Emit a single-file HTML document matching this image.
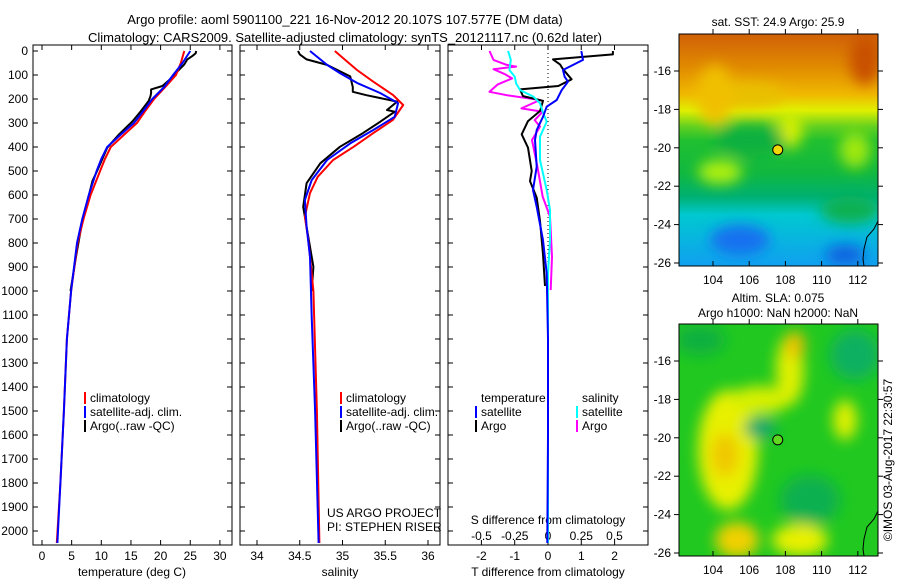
<!DOCTYPE html>
<html><head><meta charset="utf-8"><style>
html,body{margin:0;padding:0;background:#fff;}
svg{display:block;font-family:"Liberation Sans",sans-serif;}
</style></head><body>
<svg id="c" width="900" height="580" viewBox="0 0 900 580" xmlns="http://www.w3.org/2000/svg">
<defs>
<filter id="bl" x="-50%" y="-50%" width="200%" height="200%"><feGaussianBlur stdDeviation="7"/></filter>
<clipPath id="m1c"><rect x="679" y="34" width="199" height="232"/></clipPath>
<clipPath id="m2c"><rect x="679" y="324" width="199" height="232"/></clipPath>
<linearGradient id="g1" x1="0" y1="0" x2="0" y2="1">
<stop offset="0" stop-color="#d06008"/><stop offset="0.14" stop-color="#e08a00"/><stop offset="0.26" stop-color="#f0b800"/><stop offset="0.33" stop-color="#e0f000"/><stop offset="0.4" stop-color="#60d020"/><stop offset="0.46" stop-color="#20c030"/><stop offset="0.6" stop-color="#10b840"/><stop offset="0.7" stop-color="#00b070"/><stop offset="0.78" stop-color="#00c8d0"/><stop offset="1" stop-color="#10a0f0"/>
</linearGradient>
</defs>
<text x="345" y="24" font-size="13" text-anchor="middle">Argo profile: aoml 5901100_221 16-Nov-2012 20.107S 107.577E (DM data)</text>
<text x="345" y="42" font-size="13" text-anchor="middle">Climatology: CARS2009. Satellite-adjusted climatology: synTS_20121117.nc (0.62d later)</text>
<g id="axes"></g>
<g id="maps">
<g clip-path="url(#m1c)">
<rect x="679" y="34" width="199" height="232" fill="url(#g1)"/>
<g filter="url(#bl)">
<ellipse cx="745" cy="95" rx="40" ry="12" fill="#e8c000"/>
<ellipse cx="715" cy="95" rx="18" ry="30" fill="#f0c000"/>
<ellipse cx="790" cy="130" rx="12" ry="18" fill="#d8f000"/>
<ellipse cx="750" cy="140" rx="35" ry="16" fill="#10b040"/>
<ellipse cx="720" cy="172" rx="22" ry="12" fill="#b0f010"/>
<ellipse cx="855" cy="150" rx="15" ry="18" fill="#a0e810"/>
<ellipse cx="865" cy="60" rx="15" ry="25" fill="#c85000"/>
<ellipse cx="740" cy="240" rx="30" ry="15" fill="#1870f0"/>
<ellipse cx="845" cy="255" rx="20" ry="10" fill="#1060e0"/>
<ellipse cx="850" cy="210" rx="30" ry="14" fill="#10b050"/>
</g>
</g>
<rect x="679" y="34" width="199" height="232" fill="none" stroke="#000"/>
<text x="778" y="26" font-size="12" text-anchor="middle">sat. SST: 24.9 Argo: 25.9</text>
<g clip-path="url(#m2c)">
<rect x="679" y="324" width="199" height="232" fill="#20c820"/>
<g filter="url(#bl)">
<ellipse cx="700" cy="340" rx="25" ry="15" fill="#10b040"/>
<ellipse cx="728" cy="450" rx="30" ry="60" fill="#e8f000"/>
<ellipse cx="725" cy="455" rx="14" ry="22" fill="#f0c800"/>
<ellipse cx="790" cy="370" rx="14" ry="35" fill="#e0f000"/>
<ellipse cx="795" cy="345" rx="10" ry="14" fill="#f0c000"/>
<ellipse cx="760" cy="400" rx="30" ry="14" fill="#d8f000"/>
<ellipse cx="760" cy="428" rx="16" ry="11" fill="#10a870"/>
<ellipse cx="845" cy="420" rx="12" ry="20" fill="#e0f000"/>
<ellipse cx="855" cy="355" rx="25" ry="25" fill="#10b060"/>
<ellipse cx="810" cy="500" rx="30" ry="25" fill="#10b050"/>
<ellipse cx="737" cy="540" rx="22" ry="18" fill="#f0d000"/>
<ellipse cx="800" cy="540" rx="28" ry="16" fill="#e8f000"/>
</g>
</g>
<rect x="679" y="324" width="199" height="232" fill="none" stroke="#000"/>
<text x="778" y="302" font-size="12" text-anchor="middle">Altim. SLA: 0.075</text>
<text x="778" y="317" font-size="12" text-anchor="middle">Argo h1000: NaN h2000: NaN</text>
<text x="0" y="0" font-size="12" text-anchor="middle" transform="translate(892,460) rotate(-90)">©IMOS 03-Aug-2017 22:30:57</text>
</g>
</svg>
<script>
const climDepth=[0,50,100,150,200,250,300,350,400,450,500,600,700,800,1000,1200,1500,1800,2050];
const climTemp=[24.0,23.4,22.6,20.8,18.9,17.4,16.0,13.8,11.6,10.6,9.8,8.2,7.0,6.0,4.9,4.2,3.7,3.1,2.5];
const satTemp=[25.0,23.7,22.1,20.6,18.6,17.1,15.5,13.2,11.0,10.0,9.2,7.9,6.8,5.9,4.9,4.2,3.7,3.1,2.6];
const argoDepth=[0,10,20,35,56,76,100,118,146,160,175,188,208,250,292,347,403,500,542,611,708,847,1000];
const argoTemp=[26.0,25.9,25.4,24.5,24.0,23.2,22.3,21.6,20.3,18.4,18.4,18.3,18.0,16.7,15.3,13.0,11.0,9.3,8.5,7.8,6.8,5.8,4.8];
const climSDepth=[0,79,128,183,225,287,342,399,454,524,592,690,787,1000,1500,2050];
const climSal=[34.91,35.17,35.36,35.59,35.71,35.59,35.36,35.13,34.89,34.71,34.62,34.56,34.60,34.66,34.70,34.73];
const satSDepth=[0,58,92,133,175,217,274,329,385,454,538,621,732,857,1107,1500,2050];
const satSal=[34.62,34.82,34.97,35.17,35.44,35.65,35.61,35.36,35.09,34.82,34.64,34.56,34.58,34.62,34.64,34.68,34.72];
const argoSDepth=[0,14,35,58,106,150,170,184,211,246,253,295,342,399,468,551,649,899,1000];
const argoSal=[34.48,34.50,34.58,34.82,35.09,35.12,35.12,35.28,35.64,35.52,35.61,35.44,35.24,34.97,34.74,34.58,34.54,34.66,34.64];
const dTsatDepth=[0,37,79,107,128,163,204,232,274,329,371,482,579,649,788,926,1200,1600,2050];
const dTsat=[1.0,1.05,0.45,0.5,0.6,0.41,0.26,-0.04,-0.15,-0.34,-0.39,-0.34,-0.45,-0.34,-0.15,-0.04,0.0,0.0,-0.02];
const dTargoDepth=[0,14,35,56,76,118,146,160,188,208,250,292,347,403,500,542,611,708,847,979];
const dTargo=[1.95,1.95,0.15,0.36,0.45,0.71,0.31,-0.84,-0.75,-0.15,-0.24,-0.6,-0.79,-0.6,-0.49,-0.54,-0.34,-0.24,-0.15,-0.09];
const dSsatDepth=[0,37,79,107,135,163,190,218,253,294,357,454,579,662,788,926,1500,2050];
const dSsat=[-0.3,-0.28,-0.29,-0.25,-0.24,-0.21,-0.11,-0.06,-0.04,-0.01,-0.06,-0.06,-0.01,0.015,0.015,0.0,0.0,0.0];
const dSargoDepth=[0,37,58,65,76,95,114,140,170,184,204,239,253,288,315,371,482,607,690,857,996];
const dSargo=[-0.44,-0.41,-0.31,-0.24,-0.41,-0.33,-0.27,-0.38,-0.44,-0.31,-0.06,-0.2,-0.04,-0.1,-0.06,-0.12,-0.08,-0.04,0.015,0.03,0.02];
const depthTicks=[0,100,200,300,400,500,600,700,800,900,1000,1100,1200,1300,1400,1500,1600,1700,1800,1900,2000];
const tempTicks=[0,5,10,15,20,25,30];
const salTicks=[34,34.5,35,35.5,36];
const tdTicks=[-2,-1,0,1,2];
const sdTicks=[-0.5,-0.25,0,0.25,0.5];
const lonTicks=[104,106,108,110,112];
const latTicks=[-16,-18,-20,-22,-24,-26];
const argoLon=107.577, argoLat=-20.107;

const NS='http://www.w3.org/2000/svg';
const ax=document.getElementById('axes');
function mk(tag,attrs,parent){const e=document.createElementNS(NS,tag);for(const k in attrs)e.setAttribute(k,attrs[k]);(parent||ax).appendChild(e);return e;}
const Y=d=>51+d*0.24;
const yTop=45,yBot=545;
const panels=[
 {x0:33,x1:232,sx:v=>42+v*5.93,name:'temperature-panel'},
 {x0:240,x1:440,sx:v=>257+(v-34)*85.5,name:'salinity-panel'},
 {x0:448,x1:648,sx:v=>548+v*33.3,name:'difference-panel'}];
panels.forEach((p,i)=>{
 const r=mk('rect',{x:p.x0,y:yTop,width:p.x1-p.x0,height:yBot-yTop,fill:'none',stroke:'#000'});
 
 
 depthTicks.forEach(d=>{
  mk('line',{x1:p.x0,x2:p.x0+5,y1:Y(d),y2:Y(d),stroke:'#000'});
  mk('line',{x1:p.x1,x2:p.x1-5,y1:Y(d),y2:Y(d),stroke:'#000'});
 });
});
depthTicks.forEach(d=>{
 const t=mk('text',{x:28,y:Y(d)+4,'font-size':12,'text-anchor':'end'});t.textContent=d;
 
 
});
function xticks(ticks,sx,ly,withTop){
 ticks.forEach(v=>{
  const x=sx(v);
  mk('line',{x1:x,x2:x,y1:yBot,y2:yBot-5,stroke:'#000'});
  if(withTop)mk('line',{x1:x,x2:x,y1:yTop,y2:yTop+5,stroke:'#000'});
  const t=mk('text',{x:x,y:ly,'font-size':12,'text-anchor':'middle'});t.textContent=v;
  
  
 });
}
xticks(tempTicks,panels[0].sx,560,true);
xticks(salTicks,panels[1].sx,560,true);
xticks(tdTicks,panels[2].sx,560,false);
const sS=v=>548+v*133;
sdTicks.forEach(v=>{const x=sS(v);mk('line',{x1:x,x2:x,y1:yTop,y2:yTop+5,stroke:'#000'});
 const t=mk('text',{x:x,y:540,'font-size':12,'text-anchor':'middle'});t.textContent=String(v);
 
 
});
function lbl(x,y,s,name,anchor,col){const t=mk('text',{x:x,y:y,'font-size':12,'text-anchor':anchor||'start',fill:col||'#000'});t.textContent=s;
 
 return t;}
lbl(132,576,'temperature (deg C)','temperature-axis-title','middle');
lbl(340,576,'salinity','salinity-axis-title','middle');
lbl(548,576,'T difference from climatology','t-diff-axis-title','middle');
lbl(548,524,'S difference from climatology','s-diff-axis-title','middle');
mk('line',{x1:548,x2:548,y1:yTop,y2:yBot,stroke:'#000','stroke-dasharray':'1,3'});
function line(xs,ds,sx,col,name,w){
 const pts=xs.map((v,i)=>sx(v).toFixed(1)+','+Y(ds[i]).toFixed(1)).join(' ');
 const l=mk('polyline',{points:pts,fill:'none',stroke:col,'stroke-width':w||2,'stroke-linejoin':'round'});
 
 
}
line(argoTemp,argoDepth,panels[0].sx,'#000','argo-temperature-line');
line(climTemp,climDepth,panels[0].sx,'#f00','clim-temperature-line');
line(satTemp,climDepth,panels[0].sx,'#00f','sat-temperature-line');
line(argoSal,argoSDepth,panels[1].sx,'#000','argo-salinity-line');
line(climSal,climSDepth,panels[1].sx,'#f00','clim-salinity-line');
line(satSal,satSDepth,panels[1].sx,'#00f','sat-salinity-line');
line(dSargo,dSargoDepth,sS,'#f0f','argo-s-diff-line');
line(dTargo,dTargoDepth,panels[2].sx,'#000','argo-t-diff-line');
line(dSsat,dSsatDepth,sS,'#0ff','sat-s-diff-line');
line(dTsat,dTsatDepth,panels[2].sx,'#00f','sat-t-diff-line');
function legend(x,y,col,s,name){mk('rect',{x:x-6,y:y-10,width:2,height:12,fill:col});lbl(x,y,s,name);}
[90,346].forEach(x=>{
 legend(x,402,'#f00','climatology','legend-climatology');
 legend(x,416,'#00f','satellite-adj. clim.','legend-satellite');
 legend(x,430,'#000','Argo(..raw -QC)','legend-argo');
});
lbl(481,402,'temperature','legend-temperature-header');
legend(481,416,'#00f','satellite','legend-t-satellite');
legend(481,430,'#000','Argo','legend-t-argo');
lbl(582,402,'salinity','legend-salinity-header');
legend(582,416,'#0ff','satellite','legend-s-satellite');
legend(582,430,'#f0f','Argo','legend-s-argo');
lbl(327,517,'US ARGO PROJECT','project-label');
lbl(327,531,'PI: STEPHEN RISER','pi-label');
const mg=document.getElementById('maps');
const LX=v=>713+(v-104)*18.1;
[[34,71],[324,361]].forEach(([y0,y16],mi)=>{
 const LY=v=>y16+(-16-v)*19.2;
 lonTicks.forEach(v=>{const x=LX(v);mk('line',{x1:x,x2:x,y1:y0,y2:y0-5,stroke:'#000'},mg);mk('line',{x1:x,x2:x,y1:y0+232,y2:y0+227,stroke:'#000'},mg);
  const t=mk('text',{x:x,y:y0+250,'font-size':12,'text-anchor':'middle'},mg);t.textContent=v;
  
  });
 latTicks.forEach(v=>{const y=LY(v);mk('line',{x1:679,x2:674,y1:y,y2:y,stroke:'#000'},mg);mk('line',{x1:878,x2:883,y1:y,y2:y,stroke:'#000'},mg);
  const t=mk('text',{x:671,y:y+4,'font-size':12,'text-anchor':'end'},mg);t.textContent=v;
  
  });
 mk('path',{d:`M878 ${y0+187} L874 ${y0+195} L867 ${y0+203} L864 ${y0+215} L863 ${y0+225} L864 ${y0+232}`,fill:'none',stroke:'#000'},mg);
 const c=mk('circle',{cx:LX(argoLon),cy:LY(argoLat),r:5,fill:mi===0?'#f0d800':'#60d820',stroke:'#000'},mg);
 
 
});
</script>
</body></html>
